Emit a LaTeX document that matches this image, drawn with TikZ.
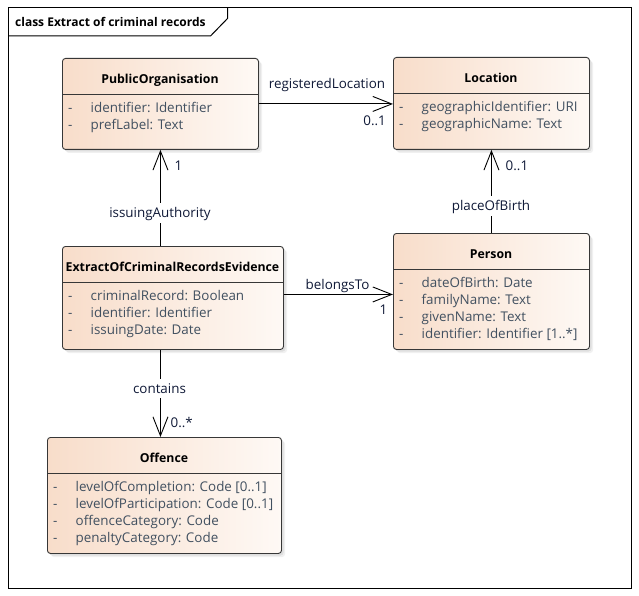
\documentclass[tikz,border=0pt]{standalone}
\usepackage{fontspec}
\setmainfont{Open Sans}
\usetikzlibrary{arrows.meta}
\definecolor{cpeach}{RGB}{248,221,202}
\definecolor{cwhite}{RGB}{254,249,245}
\definecolor{attrc}{RGB}{65,80,96}
\definecolor{labc}{RGB}{15,25,55}
\definecolor{boxline}{RGB}{55,55,55}
\newcommand\myfs{\fontsize{13.4}{15}\selectfont}
\newcommand\mybf{\fontsize{12.3}{14}\selectfont\bfseries}
\newcommand\umlcls[7]{%
  \fill[black!6, rounded corners=3pt, xshift=4pt, yshift=-4pt] (#2,#3) rectangle ++(#4,#5);
  \fill[black!13, rounded corners=3pt, xshift=2.5pt, yshift=-2.5pt] (#2,#3) rectangle ++(#4,#5);
  \node[classbox, minimum width=#4pt, minimum height=#5pt] (#1) at (#2,#3) {};
  \draw[boxln] (#2,#3+36) -- (#2+#4,#3+36);
  \node[ctitle] (#1-t) at (#2+#4/2,#3+21) {#6};
  \foreach \a [count=\i] in {#7} {
    \node[cdash] (#1-d\i) at (#2+6,#3+50+17*\i-17) {-};
    \node[cattr] (#1-a\i) at (#2+28.5,#3+50+17*\i-17) {\a};
  }%
}
\begin{document}
\begin{tikzpicture}[x=1pt,y=-1pt,
  classbox/.style={draw=boxline, line width=0.9pt, rounded corners=3pt, left color=cpeach, right color=cwhite, inner sep=0pt, anchor=north west},
  boxln/.style={draw=boxline, line width=0.9pt},
  txt/.style={inner sep=0pt, text height=9.6pt, text depth=0pt},
  btxt/.style={inner sep=0pt, text height=8.8pt, text depth=0pt},
  ctitle/.style={btxt, font=\mybf, text=black},
  cattr/.style={txt, font=\myfs, text=attrc, anchor=west},
  cdash/.style={txt, font=\myfs, text=attrc, anchor=west},
  alab/.style={txt, font=\myfs, text=labc},
  gaplab/.style={alab, fill=white, inner xsep=1pt, inner ysep=5pt},
  assoc/.style={draw=black, line width=0.9pt, -{Straight Barb[length=19pt,width=15pt]}},
  framel/.style={draw=black, line width=1pt},
]
\useasboundingbox (0,0) rectangle (639,596);
\fill[white] (0,0) rectangle (639,596);
% frame
\draw[framel] (8,8) rectangle (631,588);
\draw[framel] (8,36) -- (210.5,36) -- (227.5,18.5) -- (227.5,8);
\node[btxt, font=\fontsize{12}{14}\selectfont\bfseries, anchor=west] (ftitle) at (15,22) {class Extract of criminal records};
% classes
\umlcls{po}{62}{58}{196}{91}{PublicOrganisation}{identifier: Identifier,prefLabel: Text}
\umlcls{loc}{393}{57}{196}{92}{Location}{geographicIdentifier: URI,geographicName: Text}
\umlcls{ext}{62}{246}{221}{103}{ExtractOfCriminalRecordsEvidence}{criminalRecord: Boolean,identifier: Identifier,issuingDate: Date}
\umlcls{per}{393}{233}{196}{116}{Person}{dateOfBirth: Date,familyName: Text,givenName: Text,identifier: Identifier [1..*]}
\umlcls{off}{47}{437}{234}{116}{Offence}{levelOfCompletion: Code [0..1],levelOfParticipation: Code [0..1],offenceCategory: Code,penaltyCategory: Code}
% connectors
\draw[assoc] (po.east) -- (po.east -| loc.west);
\draw[assoc] (per.north) -- (loc.south);
\draw[assoc] (po.south |- ext.north) -- (po.south);
\draw[assoc] ([yshift=3.5pt]ext.east) -- ([yshift=3.5pt]ext.east -| per.west);
\draw[assoc] (po.south |- ext.south) -- (po.south |- off.north);
% labels
\node[alab] (l-reg) at (327,83.5) {registeredLocation};
\node[alab, anchor=east] (m-reg) at (386,120.5) {0..1};
\node[alab, anchor=west] (m-pob) at (505.5,166) {0..1};
\node[gaplab] (l-pob) at (491,206) {placeOfBirth};
\node[gaplab] (l-iss) at (160,213) {issuingAuthority};
\node[alab, anchor=west] (m-iss) at (174.5,166) {1};
\node[alab] (l-bel) at (337.5,284.5) {belongsTo};
\node[alab, anchor=west] (m-bel) at (379.5,309.5) {1};
\node[gaplab] (l-con) at (159.5,388.5) {contains};
\node[alab, anchor=west] (m-con) at (170.5,423) {0..*};
\end{tikzpicture}
\end{document}
